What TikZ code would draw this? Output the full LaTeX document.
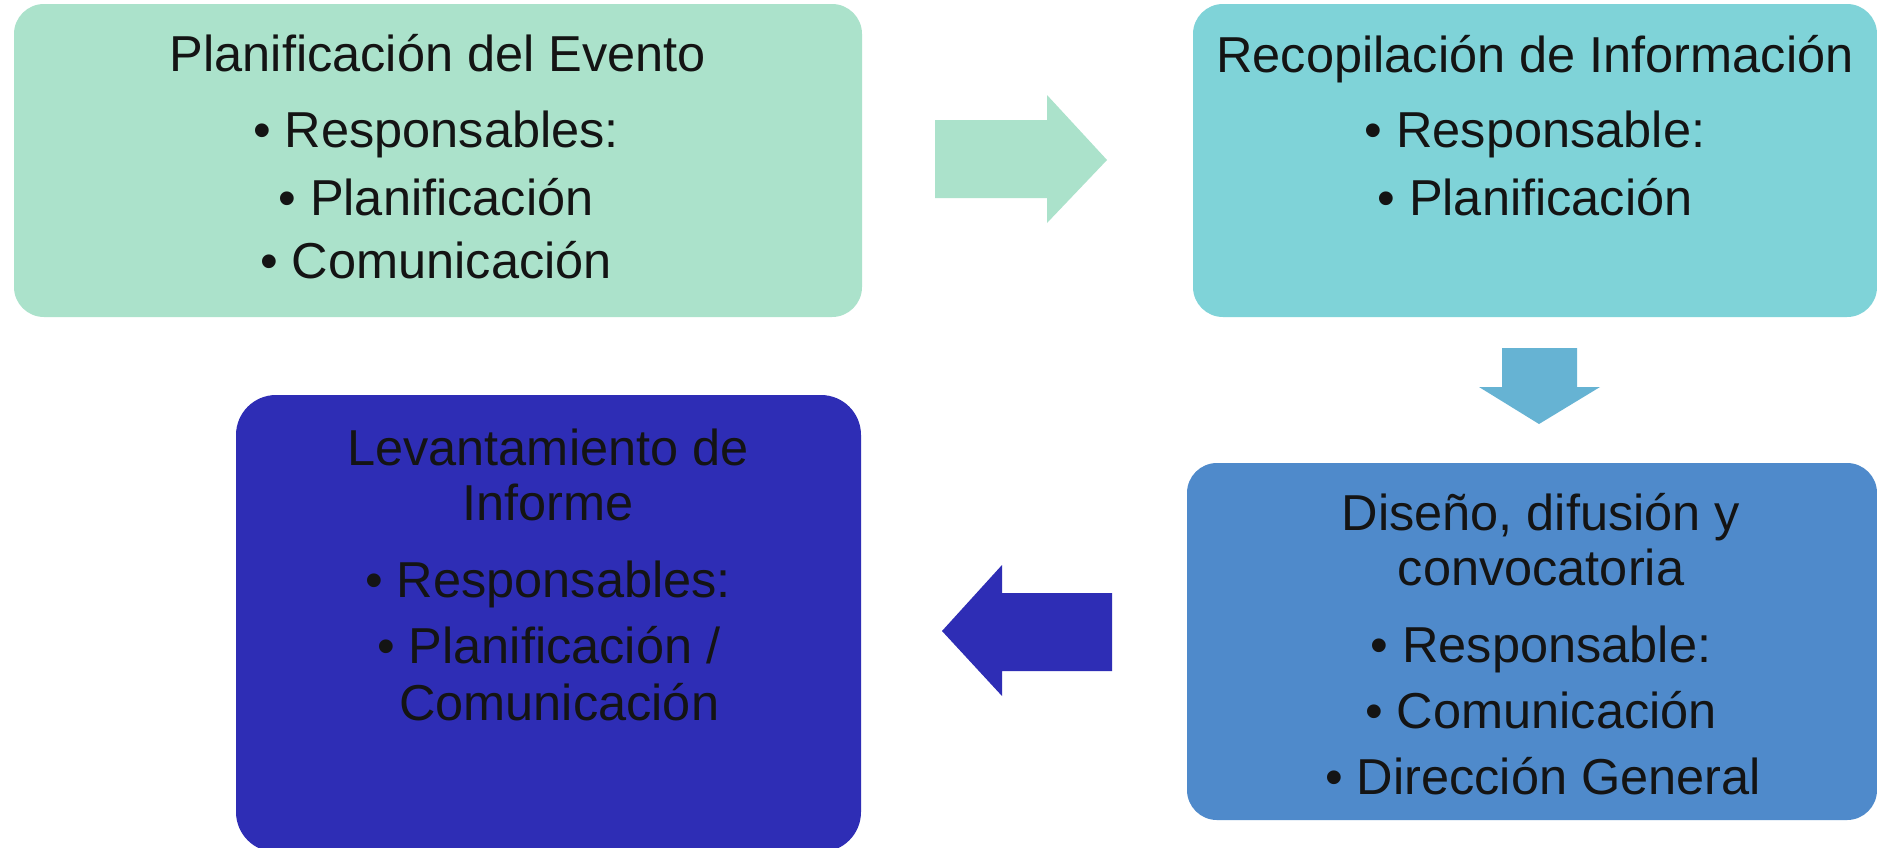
\documentclass[tikz,border=0pt]{standalone}
\usepackage{fontspec}
\setmainfont{Liberation Sans}
\definecolor{cgreen}{HTML}{ABE2CB}
\definecolor{ccyan}{HTML}{7FD3D8}
\definecolor{carrowb}{HTML}{66B3D3}
\definecolor{cblue}{HTML}{4F8ACB}
\definecolor{cdark}{HTML}{2E2DB5}
\definecolor{ctext}{HTML}{141414}
\begin{document}
\begin{tikzpicture}[x=1pt,y=-1pt,
  boxshape/.style={rounded corners=30pt},
  txt/.style={anchor=base, inner sep=0pt, text=ctext, font=\fontsize{50.5}{60}\selectfont},
  txtw/.style={anchor=base west, inner sep=0pt, text=ctext, font=\fontsize{50.5}{60}\selectfont}]
\useasboundingbox (0,0) rectangle (1877,847);
\fill[white] (0,0) rectangle (1877,847);
% boxes
\fill[cgreen, boxshape] (14,4) rectangle (862,317);
\fill[ccyan, boxshape] (1193,4) rectangle (1877,317);
\fill[cblue, boxshape] (1187,463) rectangle (1877,820);
\fill[cdark, rounded corners=40pt] (236,395) rectangle (861,852);
% arrows
\fill[cgreen] (935,120) -- (1047,120) -- (1047,95) -- (1107,160) -- (1047,223) -- (1047,198) -- (935,198) -- cycle;
\fill[carrowb] (1502,348) -- (1577,348) -- (1577,387) -- (1600,387) -- (1539,424) -- (1479,387) -- (1502,387) -- cycle;
\fill[cdark] (1112,593) -- (1002,593) -- (1002,565) -- (942,631) -- (1002,696) -- (1002,671) -- (1112,671) -- cycle;
% box 1 text
\node[txt] (t11) at (438,71) {Planificación del Evento};
\node[txt] (t12) at (436,147) {• Responsables:};
\node[txt] (t13) at (436,215) {• Planificación};
\node[txt] (t14) at (436,278) {• Comunicación};
% box 2 text
\node[txt] (t21) at (1535,72) {Recopilación de Información};
\node[txt] (t22) at (1535,147) {• Responsable:};
\node[txt] (t23) at (1535,215) {• Planificación};
% box 3 text
\node[txt] (t31) at (1541,530) {Diseño, difusión y};
\node[txt] (t32) at (1541,585) {convocatoria};
\node[txt] (t33) at (1541,662) {• Responsable:};
\node[txt] (t34) at (1541,728) {• Comunicación};
\node[txt] (t35) at (1543,794) {• Dirección General};
% box 4 text
\node[txt] (t41) at (548,465) {Levantamiento de};
\node[txt] (t42) at (548,520) {Informe};
\node[txt] (t43) at (548,597) {• Responsables:};
\node[txtw] (t44) at (377,663) {• Planificación /};
\node[txtw] (t45) at (399,720) {Comunicación};
\end{tikzpicture}
\end{document}
